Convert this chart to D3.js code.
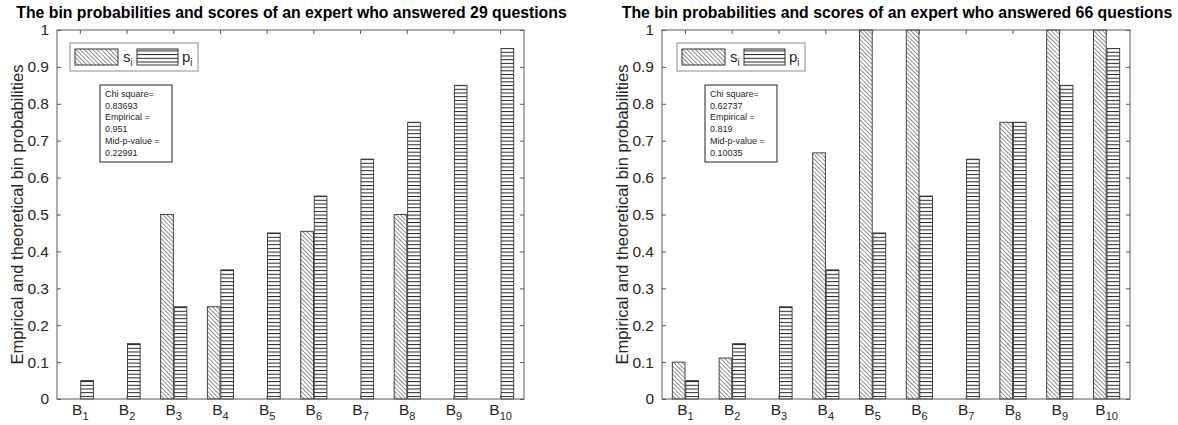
<!DOCTYPE html>
<html>
<head>
<meta charset="utf-8">
<script src="https://cdn.jsdelivr.net/npm/d3@7"></script>
<style>
  body { margin: 0; background: #fff; }
  svg { display: block; font-family: "Liberation Sans", Arial, sans-serif; }
</style>
</head>
<body>
<script>
// bins and values
const bins = ['1', '2', '3', '4', '5', '6', '7', '8', '9', '10'];
const pTheory = [0.05, 0.15, 0.25, 0.35, 0.45, 0.55, 0.65, 0.75, 0.85, 0.95];
const sLeft = [0, 0, 0.5, 0.25, 0, 0.4545, 0, 0.5, 0, 0];
const sRight = [0.1, 0.111, 0, 0.667, 1, 1, 0, 0.75, 1, 1];
const yTicks = [0, 0.1, 0.2, 0.3, 0.4, 0.5, 0.6, 0.7, 0.8, 0.9, 1];
const titles = ['The bin probabilities and scores of an expert who answered 29 questions',
                'The bin probabilities and scores of an expert who answered 66 questions'];
const statsLeft = ['Chi square=', '0.83693', 'Empirical =', '0.951', 'Mid-p-value =', '0.22991'];
const statsRight = ['Chi square=', '0.62737', 'Empirical =', '0.819', 'Mid-p-value =', '0.10035'];

const W = 1178, H = 425;
const svg = d3.select('body').append('svg')
              .attr('width', W)
              .attr('height', H)

const defs = svg.append('defs')
// diagonal hatch for s_i (top-left to bottom-right)
const diag = defs.append('pattern')
                 .attr('id', 'diag')
                 .attr('patternUnits', 'userSpaceOnUse')
                 .attr('width', 3)
                 .attr('height', 3)
                 .attr('patternTransform', 'rotate(45)')
diag.append('rect').attr('width', 3).attr('height', 3).attr('fill', '#fff')
diag.append('line')
    .attr('x1', 0).attr('y1', 0).attr('x2', 3).attr('y2', 0)
    .attr('stroke', '#333').attr('stroke-width', 1.1)
// horizontal hatch for p_i
const horiz = defs.append('pattern')
                  .attr('id', 'horiz')
                  .attr('patternUnits', 'userSpaceOnUse')
                  .attr('width', 6)
                  .attr('height', 3.7)
horiz.append('rect').attr('width', 6).attr('height', 3.7).attr('fill', '#fff')
horiz.append('line')
     .attr('x1', 0).attr('y1', 0.5).attr('x2', 6).attr('y2', 0.5)
     .attr('stroke', '#222').attr('stroke-width', 1)

const panels = [
  { left: 57, right: 524, s: sLeft, stats: statsLeft, title: titles[0], legX: 70, boxX: 100 },
  { left: 662, right: 1130, s: sRight, stats: statsRight, title: titles[1], legX: 677, boxX: 705 }
];
const plotTop = 30, plotBottom = 399;
const axisColor = '#5a5a5a';
const textColor = '#262626';

panels.forEach(pn => {
  const g = svg.append('g')

  const x0 = d3.scaleBand()
               .domain(bins)
               .range([pn.left, pn.right])
               .paddingInner(0.44)
               .paddingOuter(0.22)
  const x1 = d3.scaleBand()
               .domain(['s', 'p'])
               .range([0, x0.bandwidth()])
               .paddingInner(0.06)
  const y = d3.scaleLinear()
              .domain([0, 1])
              .range([plotBottom, plotTop])

  // bars
  const groups = g.append('g')
                  .selectAll('g')
                  .data(bins.map((b, i) => ({ b: b, s: pn.s[i], p: pTheory[i] })))
                  .enter()
                  .append('g')
                  .attr('transform', d => 'translate(' + x0(d.b) + ',0)')
  groups.selectAll('rect')
        .data(d => [{ k: 's', v: d.s }, { k: 'p', v: d.p }])
        .enter()
        .append('rect')
        .attr('x', d => x1(d.k))
        .attr('y', d => y(d.v))
        .attr('width', x1.bandwidth())
        .attr('height', d => plotBottom - y(d.v))
        .attr('fill', d => d.k === 's' ? 'url(#diag)' : 'url(#horiz)')
        .attr('stroke', '#333')
        .attr('stroke-width', 0.9)

  // axes: left, right, top, bottom with inward ticks
  const yl = g.append('g')
              .attr('transform', 'translate(' + pn.left + ',0)')
              .call(d3.axisLeft(y).tickValues(yTicks).tickSize(-4).tickPadding(8).tickFormat(d3.format('~g')))
  const yr = g.append('g')
              .attr('transform', 'translate(' + pn.right + ',0)')
              .call(d3.axisRight(y).tickValues(yTicks).tickSize(-4).tickFormat(''))
  const xt = g.append('g')
              .attr('transform', 'translate(0,' + plotTop + ')')
              .call(d3.axisTop(x0).tickSize(-4).tickFormat(''))
  const xb = g.append('g')
              .attr('transform', 'translate(0,' + plotBottom + ')')
              .call(d3.axisBottom(x0).tickSize(-4).tickFormat(''))
  ;[yl, yr, xt, xb].forEach(a => {
    a.select('.domain').remove()
    a.selectAll('.tick line').attr('stroke', axisColor)
  })
  g.append('rect')
   .attr('x', pn.left).attr('y', plotTop)
   .attr('width', pn.right - pn.left).attr('height', plotBottom - plotTop)
   .attr('fill', 'none').attr('stroke', axisColor)
  yl.selectAll('text')
    .attr('font-size', 15.5)
    .attr('fill', textColor)
    .attr('font-family', '"Liberation Sans", Arial, sans-serif')

  // bin labels B with subscript
  const lab = g.append('g')
               .selectAll('text')
               .data(bins)
               .enter()
               .append('text')
               .attr('x', d => x0(d) + x0.bandwidth() / 2)
               .attr('y', 415)
               .attr('text-anchor', 'middle')
               .attr('font-size', 15.5)
               .attr('fill', textColor)
  lab.append('tspan').text('B')
  lab.append('tspan').attr('font-size', 11).attr('dy', 5).text(d => d)

  // y label
  g.append('text')
   .attr('transform', 'translate(' + (pn.left - 34) + ',' + ((plotTop + plotBottom) / 2) + ') rotate(-90)')
   .attr('text-anchor', 'middle')
   .attr('font-size', 16.5)
   .attr('fill', textColor)
   .text('Empirical and theoretical bin probabilities')

  // title
  svg.append('text')
     .attr('x', (pn.left + pn.right) / 2 + 1)
     .attr('y', 18)
     .attr('text-anchor', 'middle')
     .attr('font-size', 15.8)
     .attr('font-weight', 'bold')
     .attr('fill', '#000')
     .text(pn.title)

  // legend
  const leg = g.append('g').attr('transform', 'translate(' + pn.legX + ',43)')
  leg.append('rect')
     .attr('width', 128).attr('height', 28)
     .attr('fill', '#fff').attr('stroke', '#8c8c8c')
  leg.append('rect')
     .attr('x', 5).attr('y', 6).attr('width', 43).attr('height', 16)
     .attr('fill', 'url(#diag)').attr('stroke', '#333')
  const ls = leg.append('text').attr('x', 53).attr('y', 19).attr('font-size', 15).attr('fill', textColor)
  ls.append('tspan').text('s')
  ls.append('tspan').attr('font-size', 10).attr('dy', 4).text('i')
  leg.append('rect')
     .attr('x', 67).attr('y', 6).attr('width', 41).attr('height', 16)
     .attr('fill', 'url(#horiz)').attr('stroke', '#333')
  const lp = leg.append('text').attr('x', 112).attr('y', 19).attr('font-size', 15).attr('fill', textColor)
  lp.append('tspan').text('p')
  lp.append('tspan').attr('font-size', 10).attr('dy', 4).text('i')

  // stats box
  const box = g.append('g').attr('transform', 'translate(' + pn.boxX + ',85)')
  box.append('rect')
     .attr('width', 72).attr('height', 77)
     .attr('fill', '#fff').attr('stroke', '#222')
  box.selectAll('text')
     .data(pn.stats)
     .enter()
     .append('text')
     .attr('x', 5)
     .attr('y', (d, i) => 12 + i * 11.7)
     .attr('font-size', 9)
     .attr('fill', textColor)
     .text(d => d)
})
</script>
</body>
</html>
